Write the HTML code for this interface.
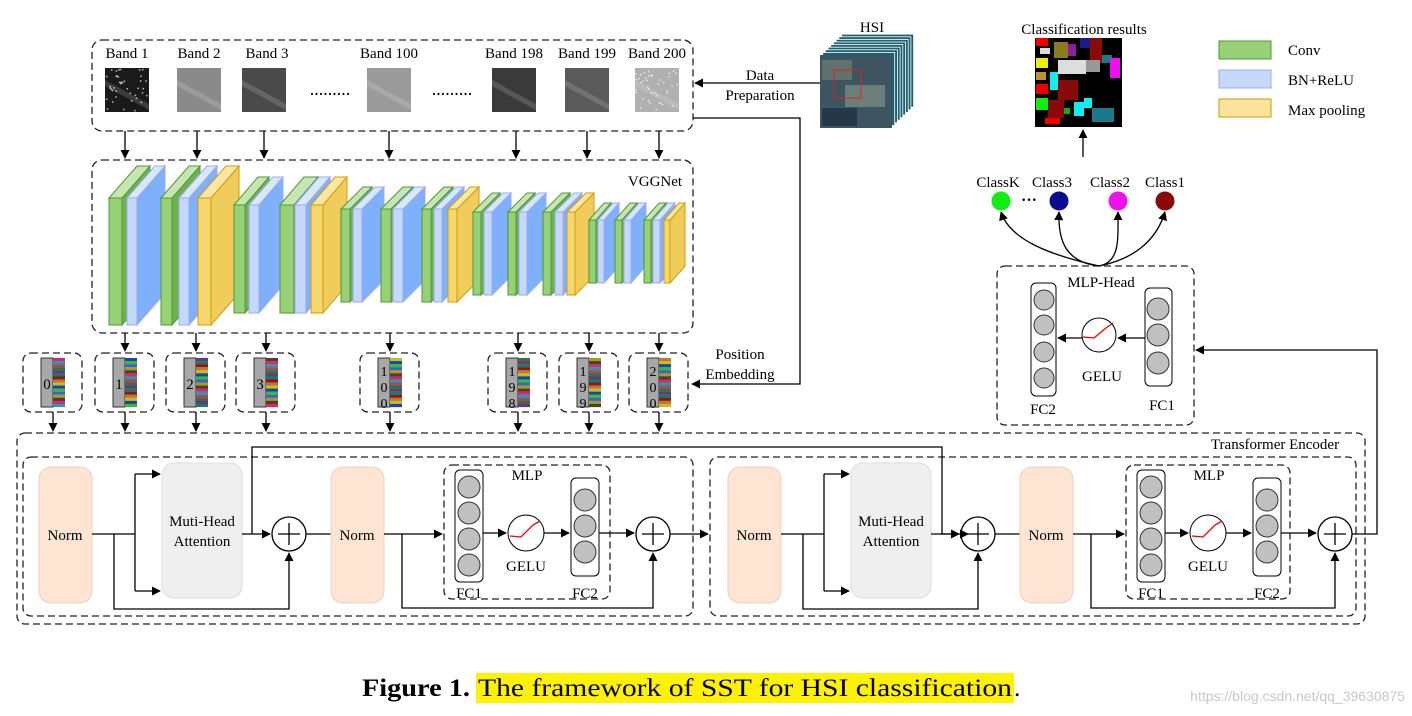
<!DOCTYPE html>
<html><head><meta charset="utf-8"><style>
html,body{margin:0;padding:0;background:#fff;}
svg{display:block;font-family:"Liberation Serif",serif;}
</style></head><body>
<svg id="s" width="1412" height="716" viewBox="0 0 1412 716" xmlns="http://www.w3.org/2000/svg">
<defs>
<marker id="a" viewBox="0 0 10 10" refX="9" refY="5" markerWidth="7" markerHeight="7" orient="auto-start-reverse"><path d="M0,0L10,5L0,10z" fill="#000"/></marker>
</defs>
<g id="vgg"></g>
<g fill="none" stroke="#222" stroke-width="1.3" stroke-dasharray="7,4">
<rect x="92" y="40" width="601" height="91" rx="10"/>
<rect x="92" y="160" width="601" height="173" rx="10"/>
<rect x="17" y="433" width="1348" height="191" rx="8"/>
<rect x="23" y="457" width="670" height="159" rx="8"/>
<rect x="710" y="457" width="646" height="159" rx="8"/>
<rect x="444" y="465" width="166" height="134" rx="8"/>
<rect x="1126" y="465" width="164" height="134" rx="8"/>
<rect x="997" y="266" width="197" height="159" rx="8"/>
</g>
<g font-size="15" text-anchor="middle">
<text x="127" y="58">Band 1</text><text x="199" y="58">Band 2</text><text x="267" y="58">Band 3</text>
<text x="389" y="58">Band 100</text><text x="514" y="58">Band 198</text><text x="587" y="58">Band 199</text><text x="657" y="58">Band 200</text>
<text x="330" y="95" font-size="18">.........</text><text x="452" y="95" font-size="18">.........</text>
<text x="655" y="186">VGGNet</text>
<text x="1275" y="449">Transformer Encoder</text>
</g>
<g id="bands"></g>
<g id="tokens"></g>
<g id="arrows" stroke="#000" stroke-width="1.3" fill="none"></g>
<g id="tb"></g>
<g id="hsi"></g>
<text x="872" y="32" font-size="15" text-anchor="middle">HSI</text>
<text x="1084" y="34" font-size="15" text-anchor="middle">Classification results</text>
<g id="cmap"></g>
<rect x="1219" y="41" width="52" height="18" fill="#97d077" stroke="#4e9a32"/>
<rect x="1219" y="70" width="52" height="18" fill="#c5d9fb" stroke="#9aa8ff"/>
<rect x="1219" y="99" width="52" height="18" fill="#fae39a" stroke="#d79b00"/>
<g font-size="15"><text x="1288" y="55">Conv</text><text x="1288" y="85">BN+ReLU</text><text x="1288" y="115">Max pooling</text></g>
<g stroke="#000" stroke-width="1.3" fill="none">
<line x1="820" y1="83" x2="695" y2="83" marker-end="url(#a)"/>
<polyline points="693,118 800,118 800,384 692,384" marker-end="url(#a)"/>
<line x1="1083" y1="157" x2="1083" y2="130" marker-end="url(#a)"/>
<path d="M1099,266 C1050,255 1010,240 1001,212" marker-end="url(#a)"/>
<path d="M1099,266 C1065,262 1058,240 1059,212" marker-end="url(#a)"/>
<path d="M1099,266 C1120,262 1118,240 1118,212" marker-end="url(#a)"/>
<path d="M1099,266 C1140,258 1158,235 1165,212" marker-end="url(#a)"/>
</g>
<g font-size="15" text-anchor="middle">
<text x="760" y="80">Data</text><text x="760" y="100">Preparation</text>
<text x="740" y="359">Position</text><text x="740" y="379">Embedding</text>
<text x="998" y="187">ClassK</text><text x="1052" y="187">Class3</text><text x="1110" y="187">Class2</text><text x="1165" y="187">Class1</text>
<text x="1029" y="205" font-size="16" font-weight="bold">···</text>
</g>
<circle cx="1001" cy="201" r="9.5" fill="#11ee11"/>
<circle cx="1059" cy="201" r="9.5" fill="#0a0a90"/>
<circle cx="1118" cy="201" r="9.5" fill="#ee11ee"/>
<circle cx="1165" cy="201" r="9.5" fill="#8a0a0a"/>
<g id="head"></g>
<rect x="476" y="673" width="538" height="30" fill="#fff200"/>
<text x="362" y="696" font-size="25" font-weight="bold" textLength="108" lengthAdjust="spacingAndGlyphs">Figure 1.</text>
<text x="478" y="696" font-size="25" textLength="534" lengthAdjust="spacingAndGlyphs">The framework of SST for HSI classification</text>
<text x="1014" y="696" font-size="25">.</text>
<text x="1405" y="701" font-size="14" fill="#c8c8c8" text-anchor="end" font-family="Liberation Sans,sans-serif">https://blog.csdn.net/qq_39630875</text>
</svg>
<script>
var NS="http://www.w3.org/2000/svg";
function el(p,t,a,txt){var e=document.createElementNS(NS,t);for(var k in a)e.setAttribute(k,a[k]);if(txt!=null)e.textContent=txt;document.getElementById(p).appendChild(e);return e;}
var C={G:["#97d077","#c6e5b3","#6fb24c","#4e9a32"],B:["#c5d9fb","#dae8fc","#7eb0fb","#9aa8ff"],Y:["#f5d76e","#fae7a5","#f0cd5a","#d79b00"]};
var groups=[
 [198,325,28,32,[["G",109,122],["B",127,137],["G",161,172],["B",179,189],["Y",198,211]]],
 [205,313,24,28,[["G",234,245],["B",249,259],["G",280,294],["B",295,306],["Y",311,323]]],
 [209,302,22,22,[["G",341,350],["B",353,362],["G",381,391],["B",393,403],["G",422,431],["B",434,442],["Y",448,457]]],
 [212,295,19,19,[["G",473,481],["B",484,492],["G",508,516],["B",519,527],["G",543,551],["B",555,563],["Y",567,575]]],
 [220,283,15,17,[["G",589,596],["B",598,604],["G",615,622],["B",624,631],["G",644,651],["B",653,660],["Y",664,670]]]];
groups.forEach(function(g){var t=g[0],b=g[1],dx=g[2],dy=g[3];g[4].forEach(function(s){var c=C[s[0]],x1=s[1],x2=s[2];
 el("vgg","polygon",{points:x2+","+t+" "+(x2+dx)+","+(t-dy)+" "+(x2+dx)+","+(b-dy)+" "+x2+","+b,fill:c[2],stroke:c[3],"stroke-width":1});
 el("vgg","polygon",{points:x1+","+t+" "+(x1+dx)+","+(t-dy)+" "+(x2+dx)+","+(t-dy)+" "+x2+","+t,fill:c[1],stroke:c[3],"stroke-width":1});
 el("vgg","rect",{x:x1,y:t,width:x2-x1,height:b-t,fill:c[0],stroke:c[3],"stroke-width":1});});});
var bx=[127,199,264,389,514,587,657],bc=["#1a1a1a","#8a8a8a","#4a4a4a","#9a9a9a","#3a3a3a","#5a5a5a","#b0b0b0"];
bx.forEach(function(x,i){el("bands","rect",{x:x-22,y:68,width:44,height:44,fill:bc[i]});
 el("bands","path",{d:"M"+(x-22)+",80 L"+(x+22)+",104 L"+(x+22)+",110 L"+(x-22)+",86z",fill:"#fff",opacity:0.15});
 if(i==0||i==6){for(var k=0;k<40;k++)el("bands","rect",{x:x-22+Math.random()*42,y:68+Math.random()*42,width:1.5,height:1.5,fill:"#fff",opacity:0.7});}});
var tl=[23,95,166,236,360,488,559,629],lab=["0","1","2","3","100","198","199","200"];
var pal=["#e0207a","#2a7b2a","#8a1a1a","#2040b0","#a0a020","#20a0a0","#703090","#d07030","#30c030","#504020","#b04070","#108060","#c0c020","#4060d0"];
tl.forEach(function(x,i){el("tokens","rect",{x:x,y:353,width:59,height:59,rx:8,fill:"none",stroke:"#222","stroke-width":1.3,"stroke-dasharray":"7,4"});
 el("tokens","rect",{x:x+18,y:358,width:12,height:49,fill:"#a8a8a8",stroke:"#333"});
 for(var k=0;k<16;k++)el("tokens","rect",{x:x+30,y:358+k*3.06,width:12,height:3.2,fill:pal[(k*5+i*3)%pal.length]});
 var s=lab[i];for(var j=0;j<s.length;j++){var yy=s.length==1?389:372+j*16;el("tokens","text",{x:x+24,y:yy+(s.length==1?0:4),"font-size":s.length==1?15:14,"text-anchor":"middle"},s[j]);}
 var cx=x+30;
 if(i>0)el("arrows","line",{x1:cx,y1:333,x2:cx,y2:351,"marker-end":"url(#a)"});
 el("arrows","line",{x1:cx,y1:412,x2:cx,y2:431,"marker-end":"url(#a)"});});
bx.forEach(function(x,i){var cx=[125,197,264,389,516,587,659][i];el("arrows","line",{x1:cx,y1:131,x2:cx,y2:158,"marker-end":"url(#a)"});});
function L(pts,arrow){el("tb","polyline",{points:pts,fill:"none",stroke:"#000","stroke-width":1.3,"marker-end":arrow?"url(#a)":""});}
function plus(cx,cy){el("tb","circle",{cx:cx,cy:cy,r:17,fill:"#fff",stroke:"#000","stroke-width":1.3});L((cx-11)+","+cy+" "+(cx+11)+","+cy);L(cx+","+(cy-11)+" "+cx+","+(cy+11));}
function mlp(ox){
 el("tb","rect",{x:ox+455,y:470,width:28,height:112,rx:5,fill:"#fff",stroke:"#000"});
 [487,513,539,565].forEach(function(c){el("tb","circle",{cx:ox+469,cy:c,r:11,fill:"#c0c0c0",stroke:"#333"});});
 el("tb","rect",{x:ox+571,y:478,width:28,height:98,rx:5,fill:"#fff",stroke:"#000"});
 [500,526,552].forEach(function(c){el("tb","circle",{cx:ox+585,cy:c,r:11,fill:"#c0c0c0",stroke:"#333"});});
 el("tb","circle",{cx:ox+526,cy:533,r:18,fill:"#fff",stroke:"#000"});
 el("tb","polyline",{points:(ox+510)+",536 "+(ox+521)+",537 "+(ox+533)+",525 "+(ox+540)+",521",fill:"none",stroke:"#e00","stroke-width":1.3});
 L((ox+483)+",533 "+(ox+506)+",533",1);L((ox+544)+",533 "+(ox+569)+",533",1);L((ox+599)+",533 "+(ox+634)+",533",1);
 el("tb","text",{x:ox+527,y:480,"font-size":15,"text-anchor":"middle"},"MLP");
 el("tb","text",{x:ox+526,y:571,"font-size":15,"text-anchor":"middle"},"GELU");
 el("tb","text",{x:ox+469,y:598,"font-size":15,"text-anchor":"middle"},"FC1");
 el("tb","text",{x:ox+585,y:598,"font-size":15,"text-anchor":"middle"},"FC2");}
function block(o,o2){
 el("tb","rect",{x:o+39,y:467,width:53,height:136,rx:12,fill:"#fde4d3",stroke:"#f0d0c0"});
 el("tb","text",{x:o+65,y:540,"font-size":15,"text-anchor":"middle"},"Norm");
 el("tb","rect",{x:o+162,y:463,width:80,height:135,rx:12,fill:"#efefef",stroke:"#ddd"});
 el("tb","text",{x:o+202,y:526,"font-size":15,"text-anchor":"middle"},"Muti-Head");
 el("tb","text",{x:o+202,y:546,"font-size":15,"text-anchor":"middle"},"Attention");
 L((o+92)+",534 "+(o+135)+",534");L((o+135)+",474 "+(o+135)+",591");
 L((o+135)+",474 "+(o+160)+",474",1);L((o+135)+",591 "+(o+160)+",591",1);
 L((o+114)+",534 "+(o+114)+",609 "+(o+289)+",609 "+(o+289)+",553",1);
 L((o+242)+",534 "+(o+270)+",534",1);
 plus(o+289,534);
 L((o+306)+",534 "+(o+331)+",534");
 el("tb","rect",{x:o+331,y:467,width:53,height:136,rx:12,fill:"#fde4d3",stroke:"#f0d0c0"});
 el("tb","text",{x:o+357,y:540,"font-size":15,"text-anchor":"middle"},"Norm");
 L((o+384)+",534 "+(o2+442)+",534",1);
 L((o+402)+",534 "+(o+402)+",608 "+(o2+653)+",608 "+(o2+653)+",553",1);
 mlp(o2);plus(o2+653,534);}
block(0,0);block(689,682);
L("252,534 252,447 942,447 942,534 968,534",1);
L("670,534 708,534",1);
L("1352,534 1377,534 1377,350 1196,350",1);
for(var k=8;k>=1;k--)el("hsi","rect",{x:820+k*2.7,y:55-k*2.6,width:72,height:73,fill:"#1d6070",stroke:"#fff","stroke-width":0.8});
el("hsi","rect",{x:820,y:55,width:72,height:73,fill:"#3c5560"});
el("hsi","rect",{x:822,y:60,width:30,height:20,fill:"#6f7f70",opacity:0.7});
el("hsi","rect",{x:845,y:85,width:40,height:22,fill:"#8a9a88",opacity:0.6});
el("hsi","rect",{x:822,y:108,width:35,height:18,fill:"#24384a"});
el("hsi","rect",{x:834,y:70,width:27,height:28,fill:"none",stroke:"#e02020","stroke-width":1});
el("cmap","rect",{x:1035,y:38,width:87,height:89,fill:"#000"});
[[1036,38,12,8,"#e00"],[1040,48,10,6,"#ddd"],[1054,42,14,16,"#8a7a20"],[1068,44,8,12,"#8a20a0"],[1080,38,10,10,"#1a1a8a"],[1090,38,12,25,"#8a0a0a"],[1058,60,28,14,"#ddd"],[1086,60,14,12,"#999"],[1102,55,10,8,"#1a7a8a"],[1110,58,10,20,"#ee11ee"],[1036,58,12,10,"#ee0"],[1036,72,10,8,"#c09030"],[1036,84,12,10,"#e00"],[1036,98,12,12,"#1e1"],[1050,72,8,18,"#1ee"],[1058,80,20,20,"#8a0a0a"],[1048,100,16,18,"#8a0a0a"],[1074,102,10,14,"#1ee"],[1084,98,8,10,"#1ee"],[1092,108,22,14,"#1a7a8a"],[1045,118,15,6,"#e00"],[1064,108,6,6,"#1a1"]].forEach(function(r){el("cmap","rect",{x:r[0],y:r[1],width:r[2],height:r[3],fill:r[4]});});
el("head","rect",{x:1031,y:283,width:25,height:113,rx:5,fill:"#fff",stroke:"#000"});
[300,325,352,378].forEach(function(c){el("head","circle",{cx:1044,cy:c,r:10,fill:"#c0c0c0",stroke:"#333"});});
el("head","rect",{x:1145,y:288,width:27,height:98,rx:5,fill:"#fff",stroke:"#000"});
[309,335,363].forEach(function(c){el("head","circle",{cx:1158,cy:c,r:11,fill:"#c0c0c0",stroke:"#333"});});
el("head","circle",{cx:1099,cy:335,r:17,fill:"#fff",stroke:"#000"});
el("head","polyline",{points:"1083,337 1094,338 1106,328 1113,323",fill:"none",stroke:"#e00","stroke-width":1.3});
el("head","line",{x1:1145,y1:338,x2:1118,y2:338,stroke:"#000","stroke-width":1.3,"marker-end":"url(#a)"});
el("head","line",{x1:1082,y1:338,x2:1058,y2:338,stroke:"#000","stroke-width":1.3,"marker-end":"url(#a)"});
[["MLP-Head",1101,287],["GELU",1102,381],["FC2",1043,414],["FC1",1162,410]].forEach(function(t){el("head","text",{x:t[1],y:t[2],"font-size":15,"text-anchor":"middle"},t[0]);});
</script>
</body></html>
